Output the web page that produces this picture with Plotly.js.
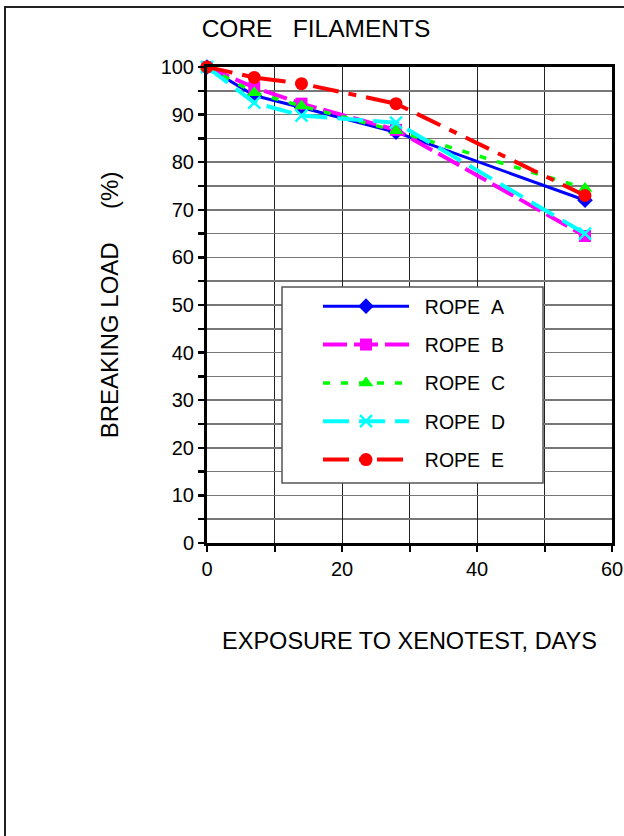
<!DOCTYPE html>
<html>
<head>
<meta charset="utf-8">
<script src="https://cdn.plot.ly/plotly-3.0.1.min.js"></script>
<style>html,body{margin:0;padding:0;background:#fff;}#chart{width:624px;height:836px;}</style>
</head>
<body>
<div id="chart"></div>
<script>
// ---- data ----
const days = [0, 7, 14, 28, 56];
const ropeA = [100, 94, 91.5, 86.3, 72];
const ropeB = [100, 95.7, 92.3, 86.8, 64.5];
const ropeC = [100, 94.6, 91.8, 86.6, 74.5];
const ropeD = [100, 92.5, 89.8, 88.3, 65];
const ropeE = [100, 97.8, 96.5, 92.3, 73];
const seriesNames = ['ROPE\u00A0\u00A0A', 'ROPE\u00A0\u00A0B', 'ROPE\u00A0\u00A0C', 'ROPE\u00A0\u00A0D', 'ROPE\u00A0\u00A0E'];
const xTickVals = [0, 20, 40, 60];
const yTickVals = [0, 10, 20, 30, 40, 50, 60, 70, 80, 90, 100];

const FONT = '"Liberation Sans", Arial, sans-serif';

const styles = [
  {color: '#0000FF', dash: 'solid', width: 3, symbol: 'diamond', size: 12, mline: 0},
  {color: '#FF00FF', dash: '24px,7px', width: 4, symbol: 'square', size: 12, mline: 0},
  {color: '#00FF00', dash: '7px,11px', width: 3.5, symbol: 'triangle-up', size: 13, mline: 0},
  {color: '#00FFFF', dash: '26px,10px', width: 4, symbol: 'x-thin-open', size: 12, mline: 2.5},
  {color: '#FF0000', dash: '26px,10px,8px,10px', width: 4, symbol: 'circle', size: 13, mline: 0}
];
const values = [ropeA, ropeB, ropeC, ropeD, ropeE];

const traces = values.map((v, i) => {
  const s = styles[i];
  return {
    x: days, y: v, name: '\u00A0\u00A0' + seriesNames[i], type: 'scatter', mode: 'lines+markers',
    legendgroup: 'g' + i, cliponaxis: false,
    line: {color: s.color, dash: s.dash, width: s.width},
    marker: {color: s.color, symbol: s.symbol, size: s.size,
             line: {color: s.color, width: s.mline}}
  };
});

// pixel helpers for paper coords (plot area 207..612 x, 67..543 y)
const L = 207, R = 612, T = 67, B = 543;
const px = x => (x - L) / (R - L);
const py = y => (B - y) / (B - T);

const layout = {
  width: 624, height: 836,
  margin: {l: L, r: 624 - R, t: T, b: 836 - B, pad: 0},
  paper_bgcolor: '#fff', plot_bgcolor: '#fff',
  font: {family: FONT, color: '#000', size: 19},
  title: {text: 'CORE\u00A0\u00A0\u00A0FILAMENTS', font: {family: FONT, size: 24.5, color: '#000'},
          xref: 'paper', x: px(316), xanchor: 'center', yref: 'container', y: 1 - 28 / 836, yanchor: 'middle'},
  showlegend: true,
  legend: {
    x: px(318), y: py(287), xanchor: 'left', yanchor: 'top',
    bgcolor: 'rgba(0,0,0,0)', borderwidth: 0,
    font: {family: FONT, size: 19.5, color: '#000'},
    itemwidth: 86, traceorder: 'grouped', tracegroupgap: 10
  },
  xaxis: {
    range: [0, 60], tickmode: 'array', tickvals: xTickVals,
    ticks: 'outside', ticklen: 6, tickwidth: 2, tickcolor: '#000',
    showline: true, linewidth: 3, linecolor: '#000', mirror: true,
    showgrid: true, gridcolor: '#222', gridwidth: 1,
    zeroline: false,
    tickfont: {family: FONT, size: 20, color: '#000'},
    minor: {dtick: 10, tick0: 0, ticks: 'outside', ticklen: 6, tickwidth: 2, tickcolor: '#000',
            showgrid: true, gridcolor: '#222', gridwidth: 1},
    title: {text: 'EXPOSURE TO XENOTEST, DAYS', font: {family: FONT, size: 23.5, color: '#000'}, standoff: 54},
    automargin: false
  },
  yaxis: {
    range: [0, 100], tickmode: 'array', tickvals: yTickVals,
    ticks: 'outside', ticklen: 6, tickwidth: 2.5, tickcolor: '#000',
    showline: true, linewidth: 3, linecolor: '#000', mirror: true,
    showgrid: true, gridcolor: '#777', gridwidth: 1.5,
    zeroline: false,
    tickfont: {family: FONT, size: 20, color: '#000'},
    minor: {dtick: 5, tick0: 0, ticks: 'outside', ticklen: 6, tickwidth: 2.5, tickcolor: '#000',
            showgrid: true, gridcolor: '#777', gridwidth: 1.5},
    title: {text: 'BREAKING LOAD' + '\u00A0'.repeat(5) + '(%)', font: {family: FONT, size: 24, color: '#000'}, standoff: 36},
    automargin: false
  },
  shapes: [
    // outer figure frame (extends beyond the visible page on right/bottom)
    {type: 'rect', xref: 'paper', yref: 'paper', x0: px(5), x1: px(720), y0: py(950), y1: py(7),
     line: {color: '#222', width: 2}, fillcolor: 'rgba(0,0,0,0)', layer: 'below'},
    // legend box
    {type: 'rect', xref: 'paper', yref: 'paper', x0: px(282), x1: px(543), y0: py(483), y1: py(287),
     line: {color: '#555', width: 1.5}, fillcolor: '#fff', layer: 'above'}
  ]
};

Plotly.newPlot('chart', traces, layout, {displayModeBar: false, staticPlot: true});
</script>
</body>
</html>
